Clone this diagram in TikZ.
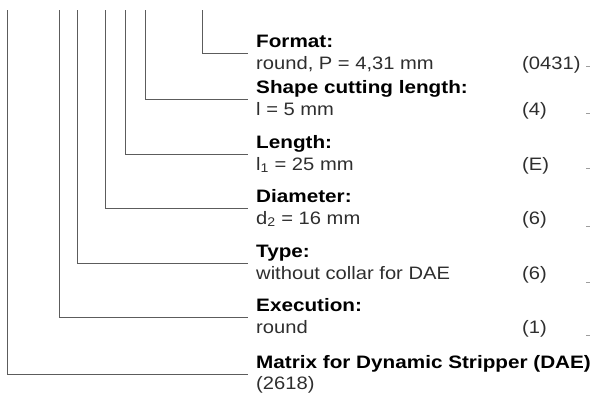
\documentclass[tikz,border=0pt]{standalone}
\usepackage{fontspec}
\setmainfont{Liberation Sans}[FakeStretch=1.12,BoldFeatures={FakeStretch=1.15}]
\usepackage{tikz}
\usetikzlibrary{positioning,calc}
\definecolor{keyLine}{HTML}{5C5C5C}
\definecolor{keyText}{HTML}{2E2E2E}
\tikzset{
  head/.style={anchor=base west,inner sep=0pt,text=black,
    font=\fontsize{18}{20}\selectfont\bfseries},
  value/.style={anchor=base west,inner sep=0pt,text=keyText,
    font=\fontsize{18}{20}\selectfont},
  leader/.style={draw=keyLine,line width=0.9pt},
  stub/.style={draw=keyLine!60,line width=0.6pt}
}

\begin{document}
\begin{tikzpicture}[x=1pt,y=-1pt]
  \useasboundingbox (0,0) rectangle (590,394);
  % key entries
  \node[head]  (fmt)  at (256,47)  {Format:};
  \node[value] (fmtv) at (256,69)  {round, P = 4,31 mm};
  \node[value] (fmtc) at (522,69)  {(0431)};
  \node[head]  (shp)  at (256,93)  {Shape cutting length:};
  \node[value] (shpv) at (256,115) {l = 5 mm};
  \node[value] (shpc) at (522,115) {(4)};
  \node[head]  (len)  at (256,148) {Length:};
  \node[value] (lenv) at (256,170) {l\textsubscript{1} = 25 mm};
  \node[value] (lenc) at (522,170) {(E)};
  \node[head]  (dia)  at (256,202) {Diameter:};
  \node[value] (diav) at (256,224) {d\textsubscript{2} = 16 mm};
  \node[value] (diac) at (522,224) {(6)};
  \node[head]  (typ)  at (256,257) {Type:};
  \node[value] (typv) at (256,279) {without collar for DAE};
  \node[value] (typc) at (522,279) {(6)};
  \node[head]  (exe)  at (256,311) {Execution:};
  \node[value] (exev) at (256,333) {round};
  \node[value] (exec) at (522,333) {(1)};
  \node[head]  (mat)  at (256,368) {Matrix for Dynamic Stripper (DAE)};
  \node[value] (matv) at (256,389) {(2618)};
  % tops of the leaders
  \coordinate (fmt-top) at (202,10);
  \coordinate (shp-top) at (145,10);
  \coordinate (len-top) at (125,10);
  \coordinate (dia-top) at (105,10);
  \coordinate (typ-top) at (77,10);
  \coordinate (exe-top) at (59,10);
  \coordinate (mat-top) at (7.5,10);
  \foreach \n in {fmt,shp,len,dia,typ,exe,mat}
    \draw[leader] (\n-top) |- ($(\n.base west)+(-8,6)$);
  % cut-off marks at the right edge
  \foreach \n/\y in {fmtc/66,shpc/113,lenc/168,diac/226,typc/282,exec/335}
    \coordinate (\n-stub) at (586,\y);
  \foreach \n in {fmtc,shpc,lenc,diac,typc,exec}
    \draw[stub] (\n-stub) -- ++(4,0);
\end{tikzpicture}
\end{document}
